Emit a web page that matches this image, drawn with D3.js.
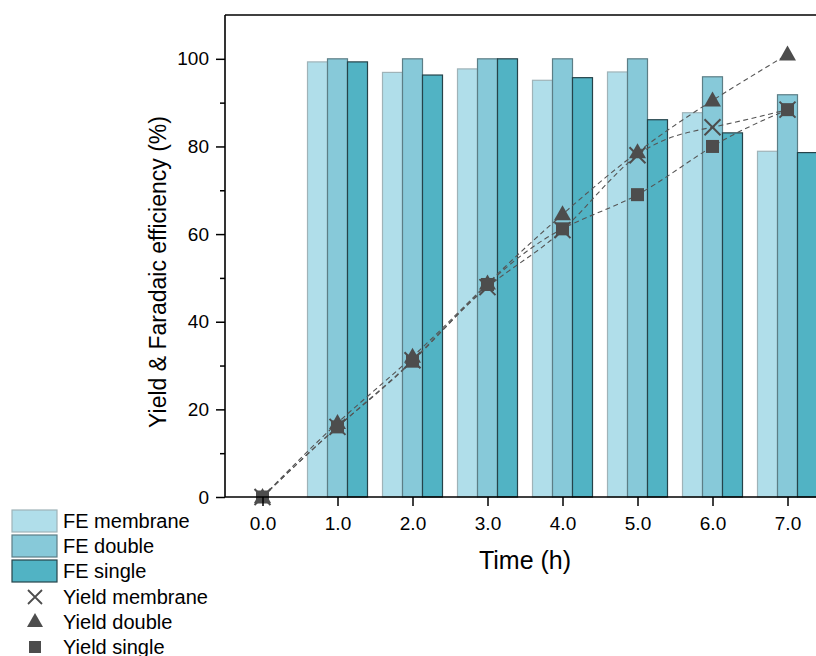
<!DOCTYPE html>
<html>
<head>
<style>
html, body { margin: 0; padding: 0; background: #fff; }
svg { display: block; font-family: "Liberation Sans", Arial, sans-serif; }
</style>
</head>
<body>
<svg width="816" height="656"></svg>
<script src="https://cdn.jsdelivr.net/npm/d3@7/dist/d3.min.js"></script>
<script>
// data
var times = [0, 1, 2, 3, 4, 5, 6, 7];
var barTimes = [1, 2, 3, 4, 5, 6, 7];
var feMembrane = [99.3, 96.9, 97.7, 95.1, 97.0, 87.7, 78.9];
var feDouble   = [100, 100, 100, 100, 100, 95.9, 91.8];
var feSingle   = [99.3, 96.3, 100, 95.7, 86.1, 83.1, 78.6];
var yieldMembrane = [0, 16.0, 31.2, 47.9, 60.9, 78.0, 84.4, 88.4];
var yieldDouble   = [0, 16.9, 32.0, 48.7, 64.5, 78.7, 90.5, 101.0];
var yieldSingle   = [0, 16.0, 31.0, 48.5, 61.2, 69.0, 80.0, 88.4];
var yTicks = [0, 20, 40, 60, 80, 100];
var yMinorTicks = [10, 30, 50, 70, 90];
var xTicks = [0, 1, 2, 3, 4, 5, 6, 7];

var svg = d3.select("svg");
var mLeft = 225, mTop = 15, mBottom = 497;

var x = d3.scaleLinear().domain([-0.5, 7.5]).range([mLeft, mLeft + 600]);
var y = d3.scaleLinear().domain([0, 110]).range([mBottom, mTop]);

var barSeries = [
    {name: "FE membrane", values: feMembrane, fill: "#b0deea", stroke: "#9fb3b8"},
    {name: "FE double",   values: feDouble,   fill: "#87c9d9", stroke: "#5c7e86"},
    {name: "FE single",   values: feSingle,   fill: "#51b3c4", stroke: "#25434a"}
];
var bw = 0.8 / 3;

barSeries.forEach(function(s, i) {
    svg.append("g").selectAll("rect")
        .data(barTimes)
        .enter().append("rect")
        .attr("x", function(d){ return x(d - 0.4 + i * bw) })
        .attr("width", x(bw) - x(0))
        .attr("y", function(d, j){ return y(s.values[j]) })
        .attr("height", function(d, j){ return y(0) - y(s.values[j]) })
        .attr("fill", s.fill)
        .attr("stroke", s.stroke)
        .attr("stroke-width", 1.2);
});

// yield lines
var lineSeries = [
    {name: "Yield membrane", values: yieldMembrane, sym: "x"},
    {name: "Yield double",   values: yieldDouble,   sym: "tri"},
    {name: "Yield single",   values: yieldSingle,   sym: "sq"}
];
var markColor = "#4d4d4d";

var line = d3.line()
    .x(function(d, i){ return x(times[i]) })
    .y(function(d){ return y(d) })
    .curve(d3.curveNatural);

lineSeries.forEach(function(s) {
    svg.append("path")
        .attr("d", line(s.values))
        .attr("fill", "none")
        .attr("stroke", "#555")
        .attr("stroke-width", 1.1)
        .attr("stroke-dasharray", "5,3.5");
});

function drawMarker(g, sym, cx, cy) {
    if (sym == "x") {
        g.append("path")
            .attr("d", "M-8,-8L8,8M-8,8L8,-8")
            .attr("transform", "translate(" + cx + "," + cy + ")")
            .attr("stroke", markColor).attr("stroke-width", 2).attr("fill", "none");
    } else if (sym == "tri") {
        g.append("path")
            .attr("d", "M0,-9L8.5,6L-8.5,6Z")
            .attr("transform", "translate(" + cx + "," + cy + ")")
            .attr("fill", markColor);
    } else {
        g.append("rect")
            .attr("x", cx - 6.5).attr("y", cy - 6.5)
            .attr("width", 13).attr("height", 13)
            .attr("fill", markColor);
    }
}

var marks = svg.append("g");
lineSeries.forEach(function(s) {
    s.values.forEach(function(v, i) {
        drawMarker(marks, s.sym, x(times[i]), y(v));
    });
});

// axes
var yAxis = d3.axisLeft(y).tickValues(yTicks).tickSize(9).tickPadding(7).tickFormat(d3.format("d"));
var yMinor = d3.axisLeft(y).tickValues(yMinorTicks).tickSize(5).tickFormat("");
var xAxis = d3.axisBottom(x).tickValues(xTicks).tickSize(9).tickPadding(11).tickFormat(d3.format(".1f"));

var gy = svg.append("g").attr("transform", "translate(" + mLeft + ",0)").call(yAxis);
var gm = svg.append("g").attr("transform", "translate(" + mLeft + ",0)").call(yMinor);
var gx = svg.append("g").attr("transform", "translate(0," + mBottom + ")").call(xAxis);

[gy, gx].forEach(function(g) {
    g.attr("font-size", null).attr("font-family", null);
    g.selectAll("text").style("font-size", "19px").attr("fill", "#000");
});
[gy, gm, gx].forEach(function(g) {
    g.selectAll(".tick line").attr("stroke", "#000").attr("stroke-width", 1.5);
    g.select(".domain").remove();
});

var frame = svg.append("g").attr("stroke", "#000").attr("stroke-width", 1.6);
frame.append("line").attr("x1", mLeft).attr("x2", 816).attr("y1", mBottom).attr("y2", mBottom);
frame.append("line").attr("x1", mLeft).attr("x2", 816).attr("y1", mTop).attr("y2", mTop);
frame.append("line").attr("x1", mLeft).attr("x2", mLeft).attr("y1", mTop).attr("y2", mBottom);

svg.append("text")
    .attr("transform", "translate(166,272) rotate(-90)")
    .attr("text-anchor", "middle")
    .style("font-size", "23px")
    .text("Yield & Faradaic efficiency (%)");

svg.append("text")
    .attr("x", 525).attr("y", 569)
    .attr("text-anchor", "middle")
    .style("font-size", "25px")
    .text("Time (h)");

// legend
var leg = svg.append("g");
barSeries.forEach(function(s, i) {
    var yy = 510 + i * 25;
    leg.append("rect").attr("x", 12).attr("y", yy).attr("width", 45).attr("height", 22)
        .attr("fill", s.fill).attr("stroke", s.stroke).attr("stroke-width", 1.2);
    leg.append("text").attr("x", 63).attr("y", yy + 18).style("font-size", "20px").text(s.name);
});
lineSeries.forEach(function(s, i) {
    var yy = 597 + i * 25;
    var g = leg.append("g");
    if (s.sym == "x") {
        g.append("path").attr("d", "M-7,-7L7,7M-7,7L7,-7")
            .attr("transform", "translate(35," + yy + ")")
            .attr("stroke", markColor).attr("stroke-width", 1.8);
    } else if (s.sym == "tri") {
        g.append("path").attr("d", "M0,-8L8,6L-8,6Z")
            .attr("transform", "translate(35," + (yy - 1) + ")").attr("fill", markColor);
    } else {
        g.append("rect").attr("x", 29).attr("y", yy - 6).attr("width", 12).attr("height", 12).attr("fill", markColor);
    }
    leg.append("text").attr("x", 63).attr("y", yy + 7).style("font-size", "20px").text(s.name);
});
</script>
</body>
</html>
